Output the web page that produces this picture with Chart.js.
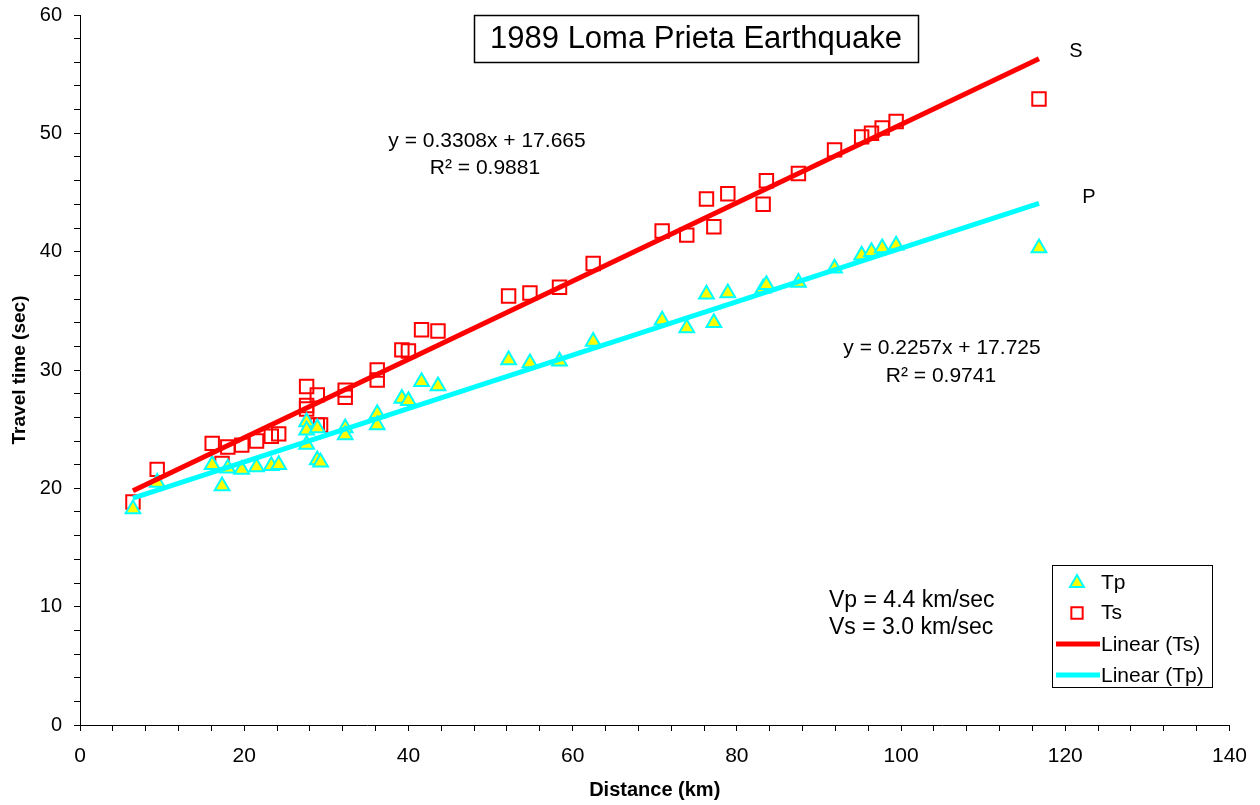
<!DOCTYPE html>
<html>
<head>
<meta charset="utf-8">
<script src="https://cdn.jsdelivr.net/npm/chart.js@4.4.1/dist/chart.umd.min.js"></script>
<style>
  html, body { margin: 0; padding: 0; background: #fff; }
</style>
</head>
<body>
<canvas id="quake" width="1260" height="805"></canvas>
<script>
// station distances (km) and arrival times (sec)
const distance = [6.45, 9.4, 16.1, 17.3, 18.0, 19.7, 21.5, 23.3, 24.2, 27.6, 27.6, 27.6, 28.9, 28.9, 29.3,
  32.3, 32.3, 36.2, 36.2, 39.2, 40.0, 41.6, 43.6, 52.2, 54.8, 58.4, 62.5, 70.9, 73.9, 76.3, 77.2, 78.9,
  83.2, 83.6, 87.5, 91.9, 95.2, 96.4, 97.7, 99.4, 116.8];
const tp = [18.25, 20.5, 22.0, 20.2, 21.7, 21.6, 21.8, 21.9, 22.0, 25.6, 24.9, 23.7, 25.1, 22.4, 22.2,
  25.1, 24.5, 26.3, 25.35, 27.6, 27.4, 29.0, 28.65, 30.85, 30.6, 30.75, 32.4, 34.2, 33.55, 36.4, 34.0, 36.5,
  36.9, 37.2, 37.4, 38.6, 39.7, 40.0, 40.3, 40.55, 40.3];
const ts = [18.85, 21.6, 23.8, 22.1, 23.5, 23.65, 24.0, 24.4, 24.6, 28.6, 27.0, 26.7, 27.9, 25.35, 25.35,
  28.3, 27.7, 30.0, 29.15, 31.7, 31.6, 33.4, 33.3, 36.25, 36.5, 37.0, 39.0, 41.75, 41.4, 44.45, 42.1, 44.9,
  44.0, 46.0, 46.6, 48.6, 49.7, 50.0, 50.45, 51.0, 52.9];

// linear trendlines: [slope, intercept, R^2]
const fitTs = [0.3308, 17.665, 0.9881];
const fitTp = [0.2257, 17.725, 0.9741];

const legendLabels = ['Tp', 'Ts', 'Linear (Ts)', 'Linear (Tp)'];
const titleText = '1989 Loma Prieta Earthquake';
const velocityNotes = ['Vp = 4.4 km/sec', 'Vs = 3.0 km/sec'];

const FONT = '"Liberation Sans", Arial, sans-serif';

const xMin = Math.min(...distance), xMax = Math.max(...distance);
function fitLine(f) {
  return [{ x: xMin, y: f[0] * xMin + f[1] }, { x: xMax, y: f[0] * xMax + f[1] }];
}
function eqText(f) { return 'y = ' + f[0] + 'x + ' + f[1]; }

const annotations = {
  id: 'annotations',
  afterDraw(chart) {
    const c = chart.ctx;
    c.save();
    // title box
    c.font = '31px ' + FONT;
    c.fillStyle = '#000';
    c.textAlign = 'center';
    c.textBaseline = 'middle';
    c.fillText(titleText, 696, 39);
    c.strokeStyle = '#000';
    c.lineWidth = 1.5;
    c.strokeRect(474.5, 15.5, 444, 47);

    // trendline equations
    c.font = '21px ' + FONT;
    c.fillText(eqText(fitTs), 487, 141);
    c.fillText('R\u00b2 = ' + fitTs[2], 485, 168);
    c.fillText(eqText(fitTp), 942, 348);
    c.fillText('R\u00b2 = ' + fitTp[2], 941, 376);

    // wave labels
    c.font = '20px ' + FONT;
    c.fillText('S', 1076, 51);
    c.fillText('P', 1089, 197);

    // velocities
    c.font = '23px ' + FONT;
    c.textAlign = 'left';
    c.fillText(velocityNotes[0], 829, 601);
    c.fillText(velocityNotes[1], 829, 628);

    // legend box
    c.lineWidth = 1;
    c.strokeRect(1052.5, 565.5, 160, 122);
    const rows = [583, 613, 644, 675];
    c.lineWidth = 2;
    c.fillStyle = '#ffff00'; c.strokeStyle = '#00ffff';
    Chart.helpers.drawPoint(c, { pointStyle: 'triangle', radius: 8, borderWidth: 2 }, 1077, rows[0]);
    c.fillStyle = '#ffffff'; c.strokeStyle = '#ff0000';
    Chart.helpers.drawPoint(c, { pointStyle: 'rect', radius: 8, borderWidth: 2 }, 1077, rows[1]);
    c.lineWidth = 5;
    c.strokeStyle = '#ff0000';
    c.beginPath(); c.moveTo(1056, rows[2]); c.lineTo(1100, rows[2]); c.stroke();
    c.strokeStyle = '#00ffff';
    c.beginPath(); c.moveTo(1056, rows[3]); c.lineTo(1100, rows[3]); c.stroke();
    c.fillStyle = '#000';
    c.font = '21px ' + FONT;
    c.textAlign = 'left';
    c.textBaseline = 'middle';
    c.fillText(legendLabels[0], 1101, rows[0]);
    c.fillText(legendLabels[1], 1101, rows[1]);
    c.fillText(legendLabels[2], 1101, rows[2] + 1);
    c.fillText(legendLabels[3], 1101, rows[3] + 1);
    c.restore();
  }
};

new Chart(document.getElementById('quake'), {
  type: 'scatter',
  data: {
    datasets: [
      {
        label: 'Linear (Ts)', type: 'line', data: fitLine(fitTs), order: 0,
        borderColor: '#ff0000', borderWidth: 5, pointRadius: 0, fill: false
      },
      {
        label: 'Linear (Tp)', type: 'line', data: fitLine(fitTp), order: 0,
        borderColor: '#00ffff', borderWidth: 5, pointRadius: 0, fill: false
      },
      {
        label: 'Tp', data: distance.map((d, i) => ({ x: d, y: tp[i] })), order: 1,
        pointStyle: 'triangle', pointRadius: 8.5, borderWidth: 2,
        borderColor: '#00ffff', backgroundColor: '#ffff00'
      },
      {
        label: 'Ts', data: distance.map((d, i) => ({ x: d, y: ts[i] })), order: 1,
        pointStyle: 'rect', pointRadius: 9.5, borderWidth: 2,
        borderColor: '#ff0000', backgroundColor: 'rgba(255,255,255,0)'
      }
    ]
  },
  options: {
    responsive: false,
    animation: false,
    layout: { padding: { top: 15, right: 30, left: 0, bottom: 0 } },
    plugins: {
      legend: { display: false },
      tooltip: { enabled: false }
    },
    scales: {
      x: {
        type: 'linear', min: 0, max: 140,
        afterFit(scale) { scale.height = 80; },
        ticks: {
          stepSize: 4, autoSkip: false, maxRotation: 0, padding: 13,
          color: '#000', font: { family: FONT, size: 21 },
          callback: v => (v % 20 === 0 ? v : '')
        },
        grid: { drawOnChartArea: false, tickLength: 6, color: '#000' },
        border: { color: '#000', width: 1 },
        title: {
          display: true, text: 'Distance (km)', color: '#000',
          font: { family: FONT, size: 20, weight: 'bold' }, padding: { top: 0, bottom: 3 }
        }
      },
      y: {
        min: 0, max: 60,
        afterFit(scale) { scale.width = 80; scale.paddingTop = 0; scale.paddingBottom = 0; },
        ticks: {
          stepSize: 2, autoSkip: false, padding: 12,
          color: '#000', font: { family: FONT, size: 20 },
          callback: v => (v % 10 === 0 ? v : '')
        },
        grid: { drawOnChartArea: false, tickLength: 6, color: '#000' },
        border: { color: '#000', width: 1 },
        title: {
          display: true, text: 'Travel time (sec)', color: '#000',
          font: { family: FONT, size: 19, weight: 'bold' }, padding: { top: 8, bottom: 0 }
        }
      }
    }
  },
  plugins: [annotations]
});
</script>
</body>
</html>
